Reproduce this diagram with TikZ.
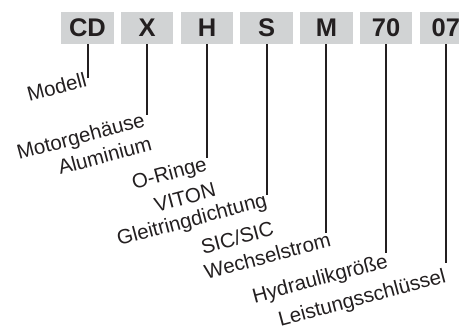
\documentclass[tikz,border=0pt]{standalone}
\usepackage{fontspec}
\setmainfont{Liberation Sans}
\usetikzlibrary{positioning}
\definecolor{ink}{HTML}{231F20}
\definecolor{boxgray}{HTML}{D1D3D4}
\tikzset{
  codebox/.style={fill=boxgray,text=ink,minimum width=52.5pt,minimum height=32pt,
    inner sep=0pt,font=\fontsize{25.5}{30}\selectfont\bfseries},
  lbl/.style={text=ink,inner sep=0pt,rotate=15,anchor=base east,
    font=\fontsize{20.5}{25}\selectfont},
  stem/.style={draw=ink,line width=2pt}
}
\begin{document}
\begin{tikzpicture}[x=1pt,y=-1pt]
\useasboundingbox (0,0) rectangle (459,333);

\pgfmathsetmacro{\yb}{28}
\pgfmathsetmacro{\gap}{6.83}
  % code boxes
  \node[codebox] (cd) at (87.5,\yb) {CD};
  \node[codebox,right=\gap pt of cd] (x) {X};
  \node[codebox,right=\gap pt of x] (h) {H};
  \node[codebox,right=\gap pt of h] (s) {S};
  \node[codebox,right=\gap pt of s] (m) {M};
  \node[codebox,right=\gap pt of m] (sz) {70};
  \node[codebox,right=\gap pt of sz] (nz) {07};

  % stems
  \foreach \n/\e in {cd/78,x/115,h/158,s/195,m/233,sz/253,nz/263}{
    \path (\n.south) ++(0,\e-\yb-16) coordinate (\n-end);
    \draw[stem] (\n.south) -- (\n-end);
  }

  % labels
  \node[lbl] (modell) at (88,86) {Modell};
  \node[lbl] (motor) at (146,126) {Motorgehäuse};
  \node[lbl] (alu) at (153,150) {Aluminium};
  \node[lbl] (oring) at (208,170) {O-Ringe};
  \node[lbl] (viton) at (217,196) {VITON};
  \node[lbl] (gleit) at (268,206) {Gleitringdichtung};
  \node[lbl] (sic) at (275,235) {SIC/SIC};
  \node[lbl] (wechsel) at (332,246) {Wechselstrom};
  \node[lbl] (hydr) at (389,267) {Hydraulikgröße};
  \node[lbl] (leist) at (447,282) {Leistungsschlüssel};

\end{tikzpicture}
\end{document}
